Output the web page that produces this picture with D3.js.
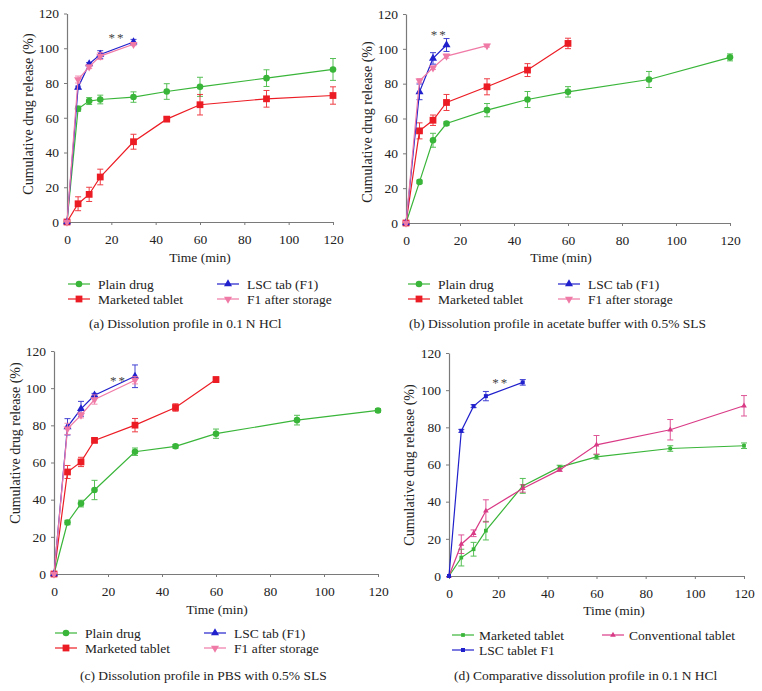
<!DOCTYPE html>
<html>
<head>
<meta charset="utf-8">
<script src="https://cdn.jsdelivr.net/npm/d3@7"></script>
<style>
  body { margin: 0; background: #fff; }
  svg text { font-family: "Liberation Serif", "Times New Roman", Times, "DejaVu Serif", serif; }
</style>
</head>
<body>
<script>
// sampling times (min)
var times = [0, 5, 10, 15, 30, 45, 60, 90, 120];
var times60 = [0, 5, 10, 15, 30, 45, 60];
var times30 = [0, 5, 10, 15, 30];
var times15 = [0, 5, 10, 15];
var axisTicks = [0, 20, 40, 60, 80, 100, 120];

// (a) 0.1 N HCl
var hclPlain = [0, 65.2, 69.6, 70.5, 71.9, 75.1, 77.8, 82.8, 87.8];
var hclPlainErr = [0, 1.5, 2, 2.5, 3, 4.5, 5.5, 4.8, 6.3];
var hclMarketed = [0, 10.5, 15.9, 25.9, 46.2, 59.2, 67.5, 70.9, 72.8];
var hclMarketedErr = [0, 4, 4.1, 4.5, 4.3, 1.2, 5.9, 4.8, 5];
var hclLsc = [0, 77.4, 91, 96.4, 103.6];
var hclLscErr = [0, 0.8, 0.8, 2.2, 1.5];
var hclStored = [0, 82, 89.3, 95.5, 102.3];
var hclStoredErr = [0, 2, 1, 2, 0.8];

// (b) acetate buffer with 0.5% SLS
var acePlain = [0, 23.6, 47.5, 57.1, 64.8, 70.9, 75.3, 82.4, 95.1];
var acePlainErr = [0, 1, 4, 1, 3.8, 4.6, 3, 4.6, 2];
var aceMarketed = [0, 52.9, 59, 69.2, 78.2, 87.8, 103.1];
var aceMarketedErr = [0, 4.6, 3, 4.6, 4.6, 3.7, 3];
var aceLsc = [0, 75.3, 94.5, 102.2];
var aceLscErr = [0, 4.5, 3.3, 3.7];
var aceStored = [0, 81.7, 89.1, 95.8, 101.8];
var aceStoredErr = [0, 1.2, 1, 1.2, 0.8];

// (c) PBS with 0.5% SLS
var pbsPlain = [0, 27.7, 37.9, 45.2, 65.8, 68.7, 75.5, 82.8, 88];
var pbsPlainErr = [0, 1.2, 1.8, 5.2, 2, 1, 2.5, 2.6, 1];
var pbsMarketed = [0, 54.9, 60.3, 71.9, 80.1, 89.6, 104.6];
var pbsMarketedErr = [0, 3.5, 2.5, 1, 3.6, 2, 1.5];
var pbsLsc = [0, 79.2, 88.9, 96.2, 106.4];
var pbsLscErr = [0, 4.4, 4, 1, 6.1];
var pbsStored = [0, 78.1, 85.5, 93.9, 104.3];
var pbsStoredErr = [0, 3, 1.5, 2.5, 2];

// (d) comparative, 0.1 N HCl
var cmpMarketed = [0, 9.9, 14.4, 24.4, 48.5, 58.6, 64.1, 68.6, 70.1];
var cmpMarketedErr = [0, 4.5, 3.7, 5, 4, 1, 1.2, 1.5, 1.5];
var cmpConventional = [0, 17.1, 23, 35, 47.1, 57.1, 70.6, 78.7, 91.6];
var cmpConventionalErr = [0, 5, 1.8, 6, 2, 0.8, 5, 5.5, 5.5];
var cmpLsc = [0, 78.1, 91.4, 96.8, 104.2];
var cmpLscErr = [0, 0.8, 0.8, 2.5, 1.5];

var captions = [
  "(a)  Dissolution profile in 0.1\u2009N HCl",
  "(b)  Dissolution profile in acetate buffer with 0.5% SLS",
  "(c)  Dissolution profile in PBS with 0.5% SLS",
  "(d)  Comparative dissolution profile in 0.1\u2009N HCl"
];
// where the ** mark sits, in data units
var starMarks = [[22.5, 109], [12.3, 111], [23.9, 106.5], [21, 106.5]];

var FONT = "'Liberation Serif', 'Times New Roman', Times, 'DejaVu Serif', serif";
var GREEN = "#39b539", RED = "#ec1c24", BLUE = "#2020cc", PINK = "#f07aa6", MAGENTA = "#d93a86";

function series(name, t, v, e, color, shape, size, lx, ly) {
  return {name: name, t: t, v: v, e: e, color: color, shape: shape, size: size, lx: lx, ly: ly};
}

var panels = [
  {x0: 67, x1: 333, y0: 222, y1: 13.5, ylab: [28, 114], xlab: [200, 262], cap: [89, 328], star: starMarks[0], caption: captions[0],
   series: [
     series("Plain drug", times, hclPlain, hclPlainErr, GREEN, "circle", 34, 68, 284),
     series("Marketed tablet", times, hclMarketed, hclMarketedErr, RED, "square", 46, 68, 299),
     series("LSC tab (F1)", times30, hclLsc, hclLscErr, BLUE, "up", 28, 217, 284),
     series("F1 after storage", times30, hclStored, hclStoredErr, PINK, "down", 28, 217, 299)
   ]},
  {x0: 406, x1: 730, y0: 223, y1: 14, ylab: [367, 122], xlab: [561, 262], cap: [409, 328], star: starMarks[1], caption: captions[1],
   series: [
     series("Plain drug", times, acePlain, acePlainErr, GREEN, "circle", 34, 408, 284),
     series("Marketed tablet", times60, aceMarketed, aceMarketedErr, RED, "square", 46, 408, 299),
     series("LSC tab (F1)", times15, aceLsc, aceLscErr, BLUE, "up", 28, 558, 284),
     series("F1 after storage", times30, aceStored, aceStoredErr, PINK, "down", 28, 558, 299)
   ]},
  {x0: 54, x1: 378, y0: 574, y1: 351, ylab: [15, 443], xlab: [217, 614], cap: [80, 680], star: starMarks[2], caption: captions[2],
   series: [
     series("Plain drug", times, pbsPlain, pbsPlainErr, GREEN, "circle", 34, 55, 633),
     series("Marketed tablet", times60, pbsMarketed, pbsMarketedErr, RED, "square", 46, 55, 648),
     series("LSC tab (F1)", times30, pbsLsc, pbsLscErr, BLUE, "up", 28, 204, 633),
     series("F1 after storage", times30, pbsStored, pbsStoredErr, PINK, "down", 28, 204, 648)
   ]},
  {x0: 449, x1: 744, y0: 576, y1: 353, ylab: [409, 465], xlab: [614, 615], cap: [454, 680], star: starMarks[3], caption: captions[3],
   series: [
     series("Marketed tablet", times, cmpMarketed, cmpMarketedErr, GREEN, "square", 14, 452, 635),
     series("Conventional tablet", times, cmpConventional, cmpConventionalErr, MAGENTA, "up", 14, 602, 635),
     series("LSC tablet F1", times30, cmpLsc, cmpLscErr, BLUE, "square", 16, 452, 650)
   ]}
];

var svg = d3.select("body").append("svg")
    .attr("width", 762)
    .attr("height", 691)
    .attr("font-family", FONT);

function symbolFor(shape, size) {
  var type = shape == "circle" ? d3.symbolCircle : shape == "square" ? d3.symbolSquare : d3.symbolTriangle;
  return d3.symbol().type(type).size(size)();
}

function drawMarker(g, s, cx, cy) {
  g.append("path")
      .attr("d", symbolFor(s.shape, s.size))
      .attr("transform", "translate(" + cx + "," + cy + ")" + (s.shape == "down" ? " rotate(180)" : ""))
      .attr("fill", s.color);
}

panels.forEach(function(p) {
  var x = d3.scaleLinear().domain([0, 120]).range([p.x0, p.x1]);
  var y = d3.scaleLinear().domain([0, 120]).range([p.y0, p.y1]);
  var g = svg.append("g");

  var xAxis = g.append("g")
      .attr("transform", "translate(0," + p.y0 + ")")
      .call(d3.axisBottom(x).tickValues(axisTicks).tickSize(3).tickSizeOuter(0).tickPadding(9));
  var yAxis = g.append("g")
      .attr("transform", "translate(" + p.x0 + ",0)")
      .call(d3.axisLeft(y).tickValues(axisTicks).tickSize(3).tickSizeOuter(0).tickPadding(5));
  [xAxis, yAxis].forEach(function(a) {
    a.attr("font-family", FONT);
    a.select(".domain").attr("stroke", "#7a7a7a").attr("stroke-width", 1.2);
    a.selectAll(".tick line").attr("stroke", "#7a7a7a");
    a.selectAll(".tick text").attr("font-size", 13.5).attr("fill", "#222");
  });

  g.append("text")
      .attr("x", p.xlab[0]).attr("y", p.xlab[1])
      .attr("text-anchor", "middle").attr("font-size", 13.5).attr("fill", "#222")
      .text("Time (min)");

  g.append("text")
      .attr("transform", "translate(" + p.ylab[0] + "," + p.ylab[1] + ") rotate(-90)")
      .attr("text-anchor", "middle").attr("dy", "0.35em").attr("font-size", 14).attr("fill", "#222")
      .text("Cumulative drug release (%)");

  p.series.forEach(function(s) {
    var pts = s.t.map(function(t, i) { return {t: t, v: s.v[i], e: s.e[i]}; });
    var line = d3.line().x(function(d) { return x(d.t); }).y(function(d) { return y(d.v); });

    g.append("path")
        .datum(pts)
        .attr("d", line)
        .attr("fill", "none")
        .attr("stroke", s.color)
        .attr("stroke-width", 1.2);

    var bars = g.append("g").attr("stroke", s.color).attr("stroke-width", 1).attr("opacity", 0.85);
    pts.filter(function(d) { return d.e > 0; }).forEach(function(d) {
      var cx = x(d.t), top = y(d.v + d.e), bot = y(d.v - d.e);
      bars.append("line").attr("x1", cx).attr("x2", cx).attr("y1", top).attr("y2", bot);
      bars.append("line").attr("x1", cx - 3).attr("x2", cx + 3).attr("y1", top).attr("y2", top);
      bars.append("line").attr("x1", cx - 3).attr("x2", cx + 3).attr("y1", bot).attr("y2", bot);
    });

    pts.forEach(function(d) { drawMarker(g, s, x(d.t), y(d.v)); });

    // legend entry
    g.append("line")
        .attr("x1", s.lx).attr("x2", s.lx + 22)
        .attr("y1", s.ly).attr("y2", s.ly)
        .attr("stroke", s.color).attr("stroke-width", 1.2);
    drawMarker(g, s, s.lx + 11, s.ly);
    g.append("text")
        .attr("x", s.lx + (p === panels[3] ? 27 : 30)).attr("y", s.ly)
        .attr("dy", "0.35em").attr("font-size", 13.5).attr("fill", "#222")
        .text(s.name);
  });

  g.append("text")
      .attr("x", x(p.star[0])).attr("y", y(p.star[1]))
      .attr("text-anchor", "middle").attr("dy", "0.7em")
      .attr("font-size", 13).attr("fill", "#444").attr("letter-spacing", 2)
      .text("**");

  g.append("text")
      .attr("x", p.cap[0]).attr("y", p.cap[1])
      .attr("font-size", 13.5).attr("fill", "#222")
      .text(p.caption);
});
</script>
</body>
</html>
